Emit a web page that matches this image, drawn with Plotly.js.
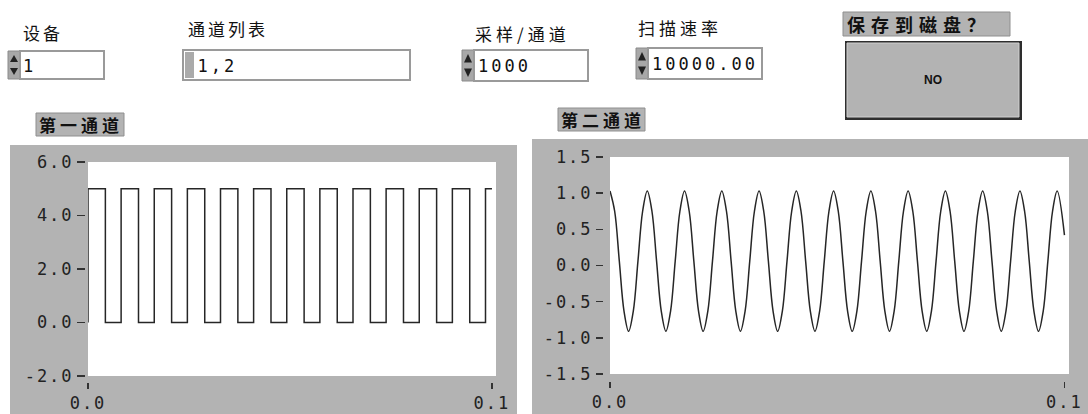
<!DOCTYPE html>
<html><head><meta charset="utf-8">
<script src="https://cdn.plot.ly/plotly-3.0.1.min.js"></script>
<style>
html,body{margin:0;padding:0;background:#fff;overflow:hidden}
.xtick text, .ytick text, .x2tick text, .y2tick text { letter-spacing: 2px; }
</style>
</head><body><div id="chart" style="width:1088px;height:414px"></div>
<script>
// ---- data ----
const ch1Title = "第一通道";
const ch2Title = "第二通道";
const ch1Time = [0, 0, 0.0043, 0.0082, 0.0125, 0.0164, 0.0207, 0.0246, 0.0289, 0.0328, 0.0371, 0.0410, 0.0453, 0.0492, 0.0535, 0.0574, 0.0617, 0.0656, 0.0699, 0.0738, 0.0781, 0.0820, 0.0863, 0.0902, 0.0945, 0.0984, 0.1000];
const ch1Value = [0, 5, 0, 5, 0, 5, 0, 5, 0, 5, 0, 5, 0, 5, 0, 5, 0, 5, 0, 5, 0, 5, 0, 5, 0, 5, 5];
const ch2Time = [0, 0.00103, 0.00205, 0.00308, 0.0041, 0.00513, 0.00615, 0.00718,
  0.0082, 0.00923, 0.01025, 0.01128, 0.0123, 0.01333, 0.01435, 0.01538,
  0.0164, 0.01743, 0.01845, 0.01948, 0.0205, 0.02153, 0.02255, 0.02358,
  0.0246, 0.02563, 0.02665, 0.02768, 0.0287, 0.02973, 0.03075, 0.03178,
  0.0328, 0.03383, 0.03485, 0.03588, 0.0369, 0.03793, 0.03895, 0.03998,
  0.041, 0.04203, 0.04305, 0.04408, 0.0451, 0.04613, 0.04715, 0.04818,
  0.0492, 0.05023, 0.05125, 0.05228, 0.0533, 0.05433, 0.05535, 0.05638,
  0.0574, 0.05843, 0.05945, 0.06048, 0.0615, 0.06253, 0.06355, 0.06458,
  0.0656, 0.06663, 0.06765, 0.06868, 0.0697, 0.07073, 0.07175, 0.07278,
  0.0738, 0.07483, 0.07585, 0.07688, 0.0779, 0.07893, 0.07995, 0.08098,
  0.082, 0.08303, 0.08405, 0.08508, 0.0861, 0.08713, 0.08815, 0.08918,
  0.0902, 0.09123, 0.09225, 0.09328, 0.0943, 0.09533, 0.09635, 0.09738,
  0.0984, 0.1];
const ch2Value = [1.03, 0.75, 0.06, -0.63, -0.91, -0.63, 0.06, 0.75,
  1.03, 0.75, 0.06, -0.63, -0.91, -0.63, 0.06, 0.75,
  1.03, 0.75, 0.06, -0.63, -0.91, -0.63, 0.06, 0.75,
  1.03, 0.75, 0.06, -0.63, -0.91, -0.63, 0.06, 0.75,
  1.03, 0.75, 0.06, -0.63, -0.91, -0.63, 0.06, 0.75,
  1.03, 0.75, 0.06, -0.63, -0.91, -0.63, 0.06, 0.75,
  1.03, 0.75, 0.06, -0.63, -0.91, -0.63, 0.06, 0.75,
  1.03, 0.75, 0.06, -0.63, -0.91, -0.63, 0.06, 0.75,
  1.03, 0.75, 0.06, -0.63, -0.91, -0.63, 0.06, 0.75,
  1.03, 0.75, 0.06, -0.63, -0.91, -0.63, 0.06, 0.75,
  1.03, 0.75, 0.06, -0.63, -0.91, -0.63, 0.06, 0.75,
  1.03, 0.75, 0.06, -0.63, -0.91, -0.63, 0.06, 0.75,
  1.03, 0.42];
const ch1YTicks = [-2, 0, 2, 4, 6];
const ch1YTickText = ["-2.0", "0.0", "2.0", "4.0", "6.0"];
const ch2YTicks = [-1.5, -1.0, -0.5, 0, 0.5, 1.0, 1.5];
const ch2YTickText = ["-1.5", "-1.0", "-0.5", "0.0", "0.5", "1.0", "1.5"];
const xTicks = [0, 0.1];
const xTickText = ["0.0", "0.1"];
const controlLabels = ["设备", "通道列表", "采样/通道", "扫描速率", "保存到磁盘？"];
const controlValues = ["1", "1,2", "1000", "10000.00", "NO"];

// ---- helpers (pixel -> paper) ----
const W = 1088, H = 414;
const GRAY = '#b3b3b3';
const fx = x => x / W, fy = y => 1 - y / H;
const shapes = [];
function rect(x0, y0, x1, y1, fill, line, lw) {
  shapes.push({type: 'rect', xref: 'paper', yref: 'paper', layer: 'below',
    x0: fx(x0), x1: fx(x1), y0: fy(y1), y1: fy(y0),
    fillcolor: fill, line: {color: line || fill, width: lw || 0}});
}
function tri(pts, fill) {
  const d = 'M ' + pts.map(p => fx(p[0]) + ',' + fy(p[1])).join(' L ') + ' Z';
  shapes.push({type: 'path', xref: 'paper', yref: 'paper', layer: 'below', path: d,
    fillcolor: fill, line: {color: fill, width: 0}});
}
const annotations = [];
const annSpacing = [];
// left-anchored label; letter-spacing (applied after render) grows a centred
// text symmetrically, so shift by half the added width to keep the left edge
function text(x, y, t, size, family, spacing, weight, anchor) {
  const sp = spacing || 0;
  const shift = (anchor === 'center') ? 0 : sp * t.length / 2;
  annotations.push({xref: 'paper', yref: 'paper', x: fx(x + shift), y: fy(y), text: t,
    showarrow: false, xanchor: anchor || 'left', yanchor: 'middle', borderpad: 0,
    font: {size: size, family: family, color: '#111', weight: weight || 'normal'}});
  annSpacing.push(sp);
}
const CJK = '"Noto Sans CJK SC", "Noto Sans", sans-serif';
const MONO = '"DejaVu Sans Mono", "Liberation Mono", monospace';

function spinner(ax0, x1, y0, y1) {
  rect(ax0, y0, ax0 + 12, y1, '#a8a8a8', '#8a8a8a', 1);
  const cx = ax0 + 6, my = (y0 + y1) / 2;
  tri([[cx, y0 + 4], [cx - 4, my - 3], [cx + 4, my - 3]], '#222');
  tri([[cx, y1 - 4], [cx - 4, my + 3], [cx + 4, my + 3]], '#222');
  rect(ax0 + 12, y0, x1, y1, '#ffffff', '#9a9a9a', 2);
}

// ---- chart frames ----
rect(10, 145, 517, 414, GRAY);
rect(88, 162, 496, 376, '#ffffff');
rect(532, 139, 1088, 414, GRAY);
rect(610, 157, 1069, 374, '#ffffff');

// chart labels
rect(36, 113, 124, 136, GRAY, '#8f8f8f', 1);
text(38, 124.5, ch1Title, 17, CJK, 4, 'bold');
rect(558, 108, 645, 131, GRAY, '#8f8f8f', 1);
text(560, 119.5, ch2Title, 17, CJK, 4, 'bold');

// controls
text(22, 32, controlLabels[0], 17, CJK, 3);
spinner(8, 104, 51, 79);
text(22, 65.5, controlValues[0], 17, MONO, 2);

text(187, 29, controlLabels[1], 17, CJK, 3);
rect(183, 50, 410, 80, '#ffffff', '#9a9a9a', 2);
rect(185, 52, 194, 78, '#aaaaaa');
text(196, 65.5, controlValues[1], 17, MONO, 3);

text(474, 33, controlLabels[2], 17, CJK, 4);
spinner(462, 588, 50, 81);
text(477, 66, controlValues[2], 17, MONO, 3);

text(637, 28, controlLabels[3], 17, CJK, 4);
spinner(636, 762, 48, 79);
text(651, 64, controlValues[3], 17, MONO, 3);

rect(843, 12, 1010, 36, GRAY, '#8f8f8f', 1);
text(846, 24, controlLabels[4], 18, CJK, 6, 'bold');
rect(845, 41, 1022, 120, '#2e2e2e');
rect(847, 43, 1019, 117, GRAY, '#d0d0d0', 1);
text(933, 80, controlValues[4], 12, '"Liberation Sans", Arial, sans-serif', 0, 'bold', 'center');

// ---- traces ----
const lineStyle = {color: '#262626', width: 1.5};
const traces = [
  {x: ch1Time, y: ch1Value, xaxis: 'x', yaxis: 'y', type: 'scatter', mode: 'lines',
   line: Object.assign({shape: 'hv'}, lineStyle), hoverinfo: 'skip'},
  {x: ch2Time, y: ch2Value, xaxis: 'x2', yaxis: 'y2', type: 'scatter', mode: 'lines',
   line: Object.assign({shape: 'spline', smoothing: 1}, lineStyle), hoverinfo: 'skip'}
];

const tickFont = {family: MONO, size: 17, color: '#222'};
const common = {showgrid: false, zeroline: false, showline: false, ticks: 'outside',
  tickcolor: '#333', tickwidth: 1.5, tickfont: tickFont, fixedrange: true, tickmode: 'array'};

const layout = {
  width: W, height: H, margin: {l: 0, r: 0, t: 0, b: 0},
  paper_bgcolor: '#ffffff', plot_bgcolor: 'rgba(0,0,0,0)', showlegend: false,
  xaxis: Object.assign({}, common, {domain: [fx(88), fx(496)], range: [0, 0.101],
    anchor: 'free', position: fy(382), tickvals: xTicks, ticktext: xTickText, ticklen: 6}),
  yaxis: Object.assign({}, common, {domain: [fy(376), fy(162)], range: [-2, 6],
    anchor: 'free', position: fx(85), tickvals: ch1YTicks, ticktext: ch1YTickText, ticklen: 8}),
  xaxis2: Object.assign({}, common, {domain: [fx(610), fx(1069)], range: [0, 0.101],
    anchor: 'free', position: fy(381), tickvals: xTicks, ticktext: xTickText, ticklen: 6}),
  yaxis2: Object.assign({}, common, {domain: [fy(374), fy(157)], range: [-1.5, 1.5],
    anchor: 'free', position: fx(603), tickvals: ch2YTicks, ticktext: ch2YTickText, ticklen: 7}),
  shapes: shapes, annotations: annotations
};
Plotly.newPlot('chart', traces, layout, {staticPlot: true, displayModeBar: false}).then(gd => {
  gd.querySelectorAll('g.annotation').forEach(g => {
    const i = +g.getAttribute('data-index');
    const t = g.querySelector('text');
    if (t && annSpacing[i]) t.style.letterSpacing = annSpacing[i] + 'px';
  });
});
</script></body></html>
